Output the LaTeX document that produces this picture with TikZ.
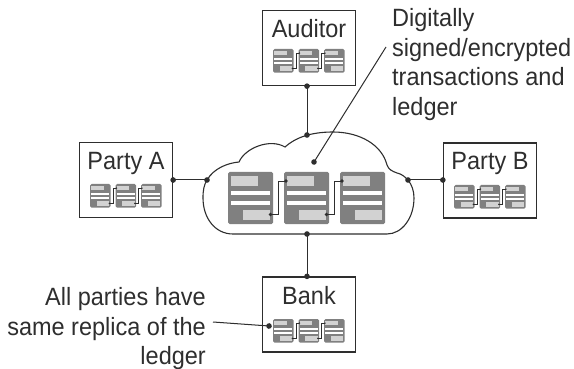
\documentclass[tikz,border=0pt]{standalone}
\usepackage{fontspec}
\setmainfont[FakeStretch=.94]{Liberation Sans}
\usepackage{xcolor}
\usetikzlibrary{arrows.meta,positioning}
\definecolor{inkgray}{HTML}{2E2E2E}
\definecolor{blockgray}{HTML}{808080}
\definecolor{slotgray}{HTML}{D2D2D2}
\tikzset{>=Stealth,
    party node/.style={draw=inkgray,line width=1.3pt,minimum width=93pt,minimum height=75pt,inner sep=0pt},
    title node/.style={text=inkgray,font=\fontsize{25}{29}\selectfont,inner sep=0pt},
    note node/.style={text=inkgray,font=\fontsize{25}{29.7}\selectfont,inner sep=0pt},
    wire/.style={draw=inkgray,line width=1pt,{Circle[length=5.5pt]}-{Circle[length=5.5pt]},shorten <=-2.75pt,shorten >=-2.75pt},
    pointer/.style={draw=inkgray,line width=1pt,-{Circle[length=5.5pt]},shorten >=-2.75pt},
    pics/ledger/.style={code={
        \foreach \x in {0,56,112}{
            \fill[blockgray,rounded corners=1.5pt] (\x,0) rectangle ++(45,52);
            \fill[white] (\x+3,19) rectangle ++(39,4.5);
            \fill[white] (\x+3,28.5) rectangle ++(39,4.5);
            \fill[slotgray] (\x+3,4) rectangle ++(27,10);
            \fill[slotgray] (\x+15,38) rectangle ++(27,10);
        }
        \draw[inkgray,line width=#1] (42.5,42.5) -- (50,42.5) -- (50,9) -- (58,9);
        \draw[inkgray,line width=#1] (98.5,42.5) -- (106,42.5) -- (106,9) -- (114,9);
        \fill[inkgray] (42.5,42.5) circle (1.8) (58,9) circle (1.8)
                       (98.5,42.5) circle (1.8) (114,9) circle (1.8);
    }},
}
\begin{document}
\begin{tikzpicture}[x=1pt,y=-1pt]
    \useasboundingbox (0,0) rectangle (574,369);

    % cloud
    \draw[inkgray,line width=1.1pt] (233,234) .. controls (215,234) and (203,218) .. (203,198)
        .. controls (203,190) and (204,185) .. (207,180)
        .. controls (214,168) and (228,163) .. (239,162)
        .. controls (245,148) and (270,138) .. (285,147)
        .. controls (295,138) and (310,132) .. (333,132)
        .. controls (360,132) and (382,145) .. (387,165)
        .. controls (389,170) and (392,171) .. (397,173)
        .. controls (402,174) and (405,177) .. (408,180)
        .. controls (412,185) and (414,191) .. (414,198)
        .. controls (414,218) and (402,234) .. (387,234) -- cycle;
    \coordinate (cloudtop) at (307,135);
    \coordinate (cloudleft) at (207,180);
    \coordinate (cloudright) at (408,180);
    \coordinate (cloudbottom) at (307,234);
    \coordinate (cloudspot) at (314,162);

    \pic at (228,172) {ledger={.9pt}};

    % parties
    \node[party node] (auditor) at (309,48) {};
    \node[party node] (partya) at (126,180) {};
    \node[party node] (partyb) at (490,180.5) {};
    \node[party node] (bank) at (309,314.5) {};

    \node[title node] (auditortitle) [below = 9pt of auditor.north] {Auditor};
    \node[title node] (partyatitle) [below = 10pt of partya.north] {Party A};
    \node[title node] (partybtitle) [below = 10pt of partyb.north] {Party B};
    \node[title node] (banktitle) [below = 10pt of bank.north] {Bank};

    \pic[scale=.456] at (273,49) {ledger={.4pt}};
    \pic[scale=.456] at (90,184) {ledger={.4pt}};
    \pic[scale=.456] at (454,185) {ledger={.4pt}};
    \pic[scale=.456] at (273,319) {ledger={.4pt}};

    % notes
    \node[note node,align=left,anchor=north west] (signednote) at (392,8) {Digitally\\signed/encrypted\\transactions and\\ledger};
    \node[note node,align=right,anchor=north east] (replicanote) at (206,287) {All parties have\\same replica of the\\ledger};
    \coordinate (signedend) at (386,47);
    \coordinate (replicaend) at (213,322);
    \coordinate (banktip) at (269,326);

    \path[wire] (cloudtop |- auditor.south) -- (cloudtop);
    \path[wire] (partya.east) -- (cloudleft);
    \path[wire] (partyb.west |- cloudright) -- (cloudright);
    \path[wire] (cloudbottom |- bank.north) -- (cloudbottom);
    \path[pointer] (signedend) -- (cloudspot);
    \path[pointer] (replicaend) -- (banktip);

\end{tikzpicture}
\end{document}
